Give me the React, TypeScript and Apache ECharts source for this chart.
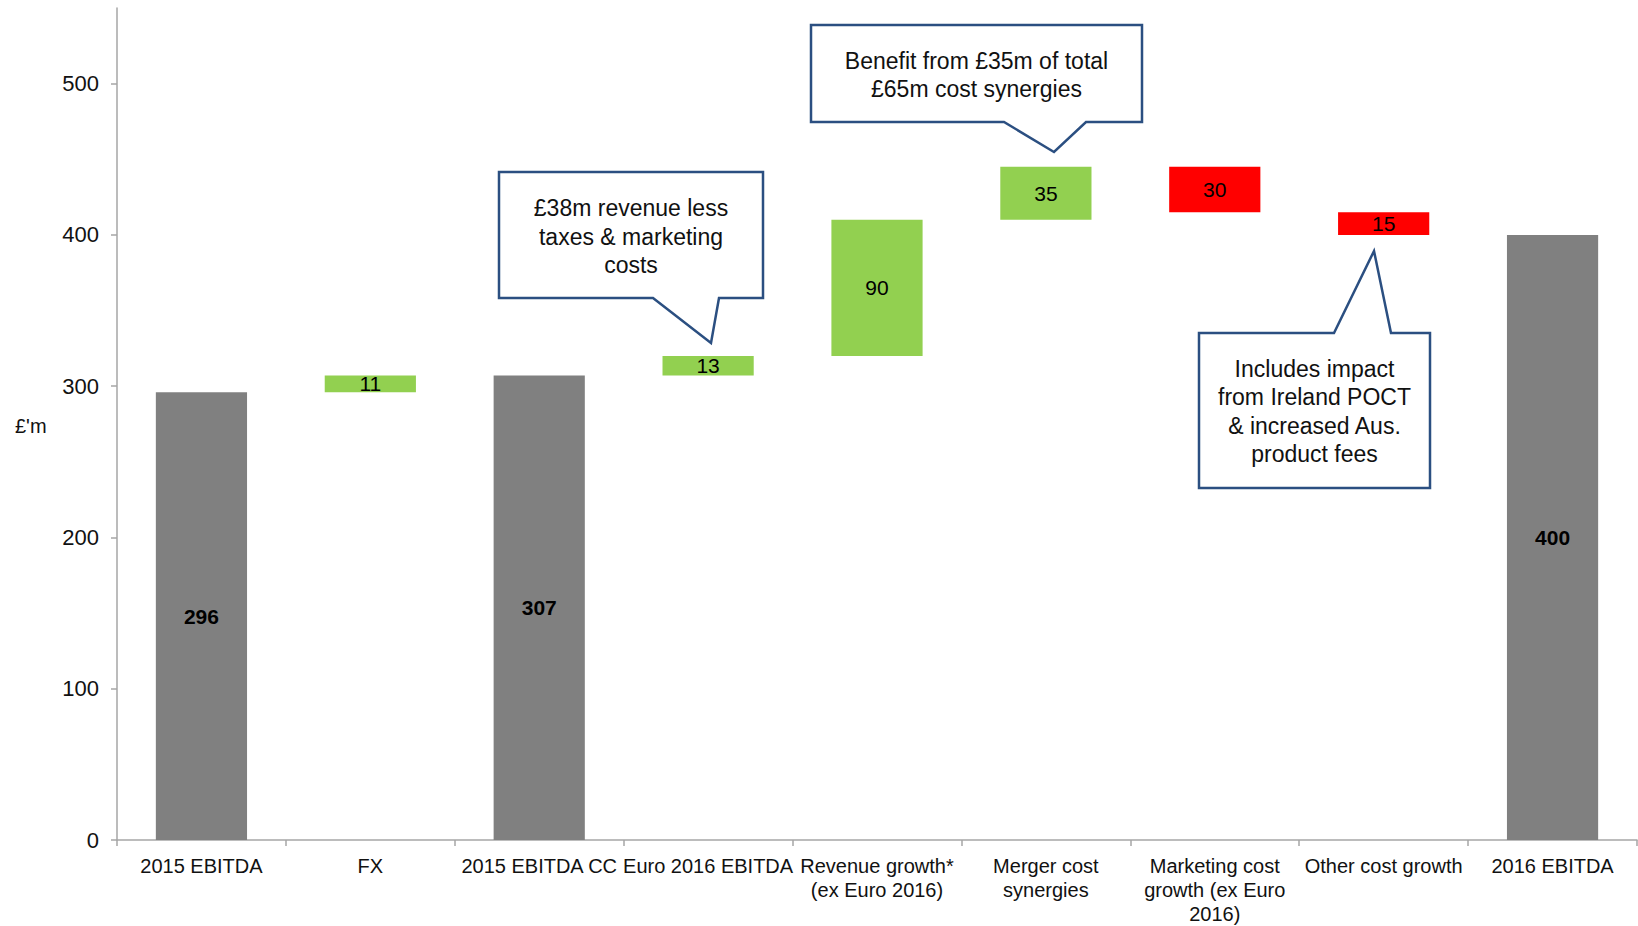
import React, { useEffect, useRef } from "react";
import * as echarts from "echarts";

const categories = [
  "2015 EBITDA",
  "FX",
  "2015 EBITDA CC",
  "Euro 2016 EBITDA",
  "Revenue growth*\n(ex Euro 2016)",
  "Merger cost\nsynergies",
  "Marketing cost\ngrowth (ex Euro\n2016)",
  "Other cost growth",
  "2016 EBITDA",
];
const values = [296, 11, 307, 13, 90, 35, -30, -15, 400];
const kinds = ["total", "delta", "total", "delta", "delta", "delta", "delta", "delta", "total"];
const yTicks = [0, 100, 200, 300, 400, 500];

const GRAY = "#808080";
const GREEN = "#92D050";
const RED = "#FF0000";
const BLUE = "#2B4F81";
const FONT = "'Liberation Sans', Arial, sans-serif";

export default function App() {
  const ref = useRef<HTMLDivElement>(null);
  useEffect(() => {
    if (!ref.current) return;
    const chart = echarts.init(ref.current, undefined, { renderer: "svg" });

    const base: number[] = [];
    const shown: any[] = [];
    let running = 0;
    values.forEach((v, i) => {
      if (kinds[i] === "total") {
        base.push(0);
        running = v;
        shown.push({ value: v, itemStyle: { color: GRAY }, label: { fontWeight: "bold" } });
      } else if (v >= 0) {
        base.push(running);
        running += v;
        shown.push({ value: v, itemStyle: { color: GREEN } });
      } else {
        running += v;
        base.push(running);
        shown.push({ value: -v, itemStyle: { color: RED } });
      }
    });

    const calloutStyle = { fill: "#fff", stroke: BLUE, lineWidth: 2.5 };
    const textStyle = (text: string, x: number, y: number) => ({
      type: "text",
      z: 101,
      style: {
        text,
        x,
        y,
        textAlign: "center",
        textVerticalAlign: "middle",
        fontSize: 23,
        lineHeight: 28.5,
        fontFamily: FONT,
        fill: "#111",
      },
    });

    chart.setOption({
      animation: false,
      grid: { left: 117, right: 1, top: 8, bottom: 85, containLabel: false },
      xAxis: {
        type: "category",
        data: categories,
        axisLine: { lineStyle: { color: "#a6a6a6", width: 1.5 } },
        axisTick: { show: true, length: 6, lineStyle: { color: "#a6a6a6", width: 1.5 } },
        axisLabel: {
          interval: 0,
          margin: 14,
          fontSize: 20,
          lineHeight: 24,
          fontFamily: FONT,
          color: "#111",
        },
      },
      yAxis: {
        type: "value",
        min: 0,
        max: 550,
        interval: 100,
        splitLine: { show: false },
        axisLine: { show: true, lineStyle: { color: "#a6a6a6", width: 1.5 } },
        axisTick: { show: true, length: 6, customValues: yTicks, lineStyle: { color: "#a6a6a6", width: 1.5 } },
        axisLabel: {
          customValues: yTicks,
          margin: 18,
          fontSize: 22,
          fontFamily: FONT,
          color: "#111",
        },
      },
      series: [
        {
          type: "bar",
          stack: "w",
          data: base,
          itemStyle: { color: "transparent" },
          silent: true,
          barWidth: "54%",
        },
        {
          type: "bar",
          stack: "w",
          data: shown,
          barWidth: "54%",
          label: {
            show: true,
            position: "inside",
            fontSize: 21,
            fontFamily: FONT,
            color: "#000",
          },
        },
      ],
      graphic: [
        { type: "text", style: { text: "£'m", x: 15, y: 426, textVerticalAlign: "middle", fontSize: 20, fontFamily: FONT, fill: "#111" } },
        {
          type: "polygon",
          z: 100,
          shape: {
            points: [
              [499, 172], [763, 172], [763, 298], [719, 298], [711, 343], [653, 298], [499, 298],
            ],
          },
          style: calloutStyle,
        },
        textStyle("£38m revenue less\ntaxes & marketing\ncosts", 631, 236.5),
        {
          type: "polygon",
          z: 100,
          shape: {
            points: [
              [811, 25], [1142, 25], [1142, 122], [1086, 122], [1054, 152], [1004, 122], [811, 122],
            ],
          },
          style: calloutStyle,
        },
        textStyle("Benefit from £35m of total\n£65m cost synergies", 976.5, 75),
        {
          type: "polygon",
          z: 100,
          shape: {
            points: [
              [1199, 333], [1334, 333], [1374, 251], [1391, 333], [1430, 333], [1430, 488], [1199, 488],
            ],
          },
          style: calloutStyle,
        },
        textStyle("Includes impact\nfrom Ireland POCT\n& increased Aus.\nproduct fees", 1314.5, 411.5),
      ],
    });
    return () => chart.dispose();
  }, []);
  return (
    <div
      ref={ref}
      style={{ position: "fixed", left: 0, top: 0, width: 1638, height: 926, background: "#fff" }}
    />
  );
}
